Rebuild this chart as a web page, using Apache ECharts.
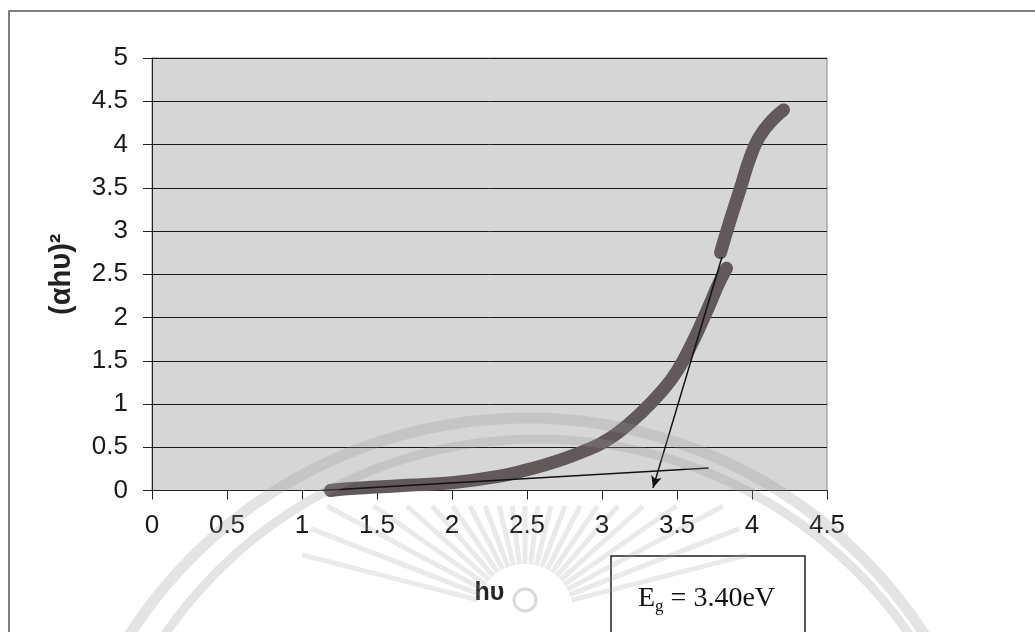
<!DOCTYPE html>
<html><head><meta charset="utf-8">
<script src="https://cdn.jsdelivr.net/npm/echarts@6/dist/echarts.min.js"></script>
<style>html,body{margin:0;padding:0;background:#fff}#c{width:1035px;height:632px}</style>
</head><body><div id="c"></div>
<script>
// ---- data ----
const xAxisName = 'hυ';
const yAxisName = '(αhυ)²';
const xMin = 0, xMax = 4.5, xStep = 0.5;
const yMin = 0, yMax = 5, yStep = 0.5;

// measured curve, lower piece
const lowerX = [1.19, 1.3, 1.5, 1.7, 2.0, 2.3, 2.5, 2.7, 2.9, 3.0, 3.1, 3.25, 3.4, 3.5, 3.6, 3.7, 3.78, 3.83];
const lowerY = [0.0, 0.02, 0.04, 0.06, 0.09, 0.16, 0.24, 0.34, 0.47, 0.55, 0.66, 0.88, 1.15, 1.38, 1.70, 2.08, 2.40, 2.57];
// measured curve, upper piece
const upperX = [3.79, 3.85, 3.92, 3.99, 4.05, 4.14, 4.21];
const upperY = [2.75, 3.10, 3.48, 3.86, 4.09, 4.29, 4.40];

// tangent lines
const baseLineX = [1.13, 3.71];
const baseLineY = [0.0, 0.26];
const steepLineX = [3.80, 3.34];
const steepLineY = [2.70, 0.03];

const egLabel = 'E';
const egSub = 'g';
const egValue = ' = 3.40eV';

const zip = (a, b) => a.map((v, i) => [v, b[i]]);

const chart = echarts.init(document.getElementById('c'), null, {renderer: 'canvas'});

const curveColor = '#62595b';
const wm = 'rgba(150,150,150,0.26)';

// faint scanned seal (watermark) decoration
const deco = [];
deco.push({type: 'arc', z: 100, silent: true, shape: {cx: 527, cy: 891, r: 473, startAngle: Math.PI * 1.1, endAngle: Math.PI * 1.9},
  style: {stroke: wm, lineWidth: 11, fill: 'none'}});
deco.push({type: 'arc', z: 100, silent: true, shape: {cx: 537, cy: 891, r: 452, startAngle: Math.PI * 1.1, endAngle: Math.PI * 1.9},
  style: {stroke: wm, lineWidth: 9, fill: 'none'}});
const sunCx = 525, sunCy = 612;
for (let k = 0; k <= 22; k++) {
  const a = Math.PI * (1.08 + 0.84 * k / 22);
  const s = -Math.sin(a), c = Math.cos(a);
  let len = Math.min(230, (sunCy - 506) / Math.max(s, 0.01));
  deco.push({type: 'line', z: 100, silent: true,
    shape: {x1: sunCx + c * 48, y1: sunCy - s * 48, x2: sunCx + c * len, y2: sunCy - s * len},
    style: {stroke: 'rgba(160,160,160,0.22)', lineWidth: 5}});
}
deco.push({type: 'circle', z: 100, silent: true, shape: {cx: sunCx, cy: sunCy - 12, r: 11},
  style: {stroke: 'rgba(150,150,150,0.35)', lineWidth: 3, fill: 'none'}});

chart.setOption({
  animation: false,
  backgroundColor: '#ffffff',
  grid: {left: 152, top: 58, right: 208, bottom: 141.5, show: true,
         backgroundColor: '#d6d6d6', borderColor: '#8a8a8a', borderWidth: 1},
  xAxis: {
    type: 'value', min: xMin, max: xMax, interval: xStep,
    axisLine: {show: true, onZero: false, lineStyle: {color: '#222', width: 1}},
    axisTick: {show: true, length: 9, lineStyle: {color: '#222'}},
    axisLabel: {fontSize: 26, color: '#1a1a1a', margin: 22, fontFamily: 'Liberation Sans, Arial'},
    splitLine: {show: false},
    name: xAxisName, nameLocation: 'middle', nameGap: 90,
    nameTextStyle: {fontSize: 25, fontWeight: 'bold', color: '#222', fontFamily: 'Liberation Sans, Arial'}
  },
  yAxis: {
    type: 'value', min: yMin, max: yMax, interval: yStep,
    axisLine: {show: true, lineStyle: {color: '#222', width: 1}},
    axisTick: {show: true, length: 9, lineStyle: {color: '#222'}},
    axisLabel: {fontSize: 26, color: '#1a1a1a', margin: 24, fontFamily: 'Liberation Sans, Arial'},
    splitLine: {show: true, lineStyle: {color: '#1a1a1a', width: 1}},
    name: yAxisName, nameLocation: 'middle', nameGap: 76, nameRotate: 90,
    nameTextStyle: {fontSize: 29, fontWeight: 'bold', color: '#222', fontFamily: 'Liberation Sans, Arial'}
  },
  graphic: deco.concat([
    {type: 'rect', z: -10, shape: {x: 9, y: 11, width: 1200, height: 800},
     style: {fill: 'none', stroke: '#555', lineWidth: 1.5}},
    {type: 'rect', shape: {x: 611, y: 556, width: 194, height: 120},
     style: {fill: 'none', stroke: '#222', lineWidth: 1.5}},
    {type: 'text', x: 638, y: 582,
     style: {text: '{a|' + egLabel + '}{s|' + egSub + '}{a|' + egValue + '}',
       rich: {a: {fontSize: 28, fontFamily: 'Liberation Serif, Times New Roman', fill: '#111'},
              s: {fontSize: 17, fontFamily: 'Liberation Serif, Times New Roman', fill: '#111', padding: [16, 0, 0, 0]}}}}
  ]),
  series: [
    {type: 'line', data: zip(lowerX, lowerY), smooth: true, symbol: 'none', z: 3,
     lineStyle: {color: curveColor, width: 13, cap: 'round'}},
    {type: 'line', data: zip(upperX, upperY), smooth: true, symbol: 'none', z: 3,
     lineStyle: {color: curveColor, width: 13, cap: 'round'}},
    {type: 'line', data: zip(baseLineX, baseLineY), symbol: 'none', z: 4,
     lineStyle: {color: '#111', width: 1.5}},
    {type: 'line', data: [], z: 4,
     markLine: {silent: true, symbol: ['none', 'arrow'], symbolSize: [8, 12], label: {show: false},
       lineStyle: {color: '#111', width: 1.5, type: 'solid'},
       data: [[{coord: [steepLineX[0], steepLineY[0]]}, {coord: [steepLineX[1], steepLineY[1]]}]]}}
  ]
});
</script>
</body></html>
